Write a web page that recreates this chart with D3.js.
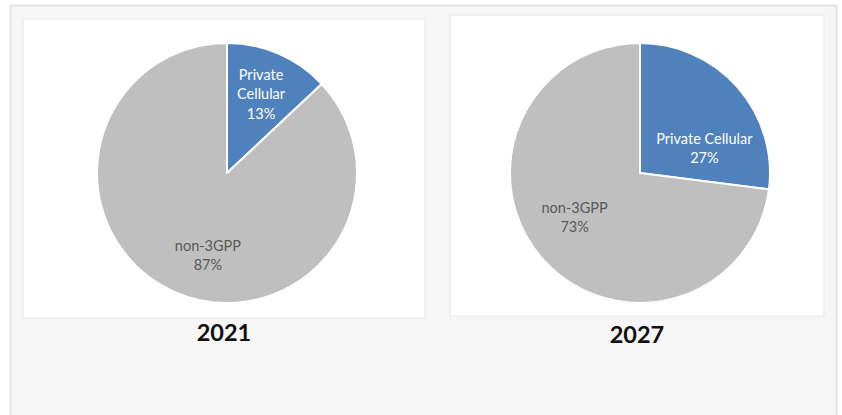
<!DOCTYPE html>
<html>
<head>
<meta charset="utf-8">
<script src="https://cdn.jsdelivr.net/npm/d3@7"></script>
<style>
  body { margin: 0; background: #fff; }
  svg text { font-family: Lato, "Open Sans", sans-serif; }
</style>
</head>
<body>
<div class="chart-container"></div>
<script>
var w = 842;
var h = 415;

// data
var years = ["2021", "2027"];
var categories = ["Private Cellular", "non-3GPP"];
var values2021 = [13, 87];
var values2027 = [27, 73];
var seriesValues = [values2021, values2027];

// label line breaks per chart (Excel wraps the narrow slice)
var labelLines = [
    [["Private", "Cellular"], ["non-3GPP"]],
    [["Private Cellular"], ["non-3GPP"]]
];
// nudge of labels from arc centroid
var labelNudge = [
    [[0, 0], [15, 4]],
    [[0, 32], [-1, -12]]
];

var colors = d3.scaleOrdinal()
    .domain(categories)
    .range(["#4f81bd", "#bfbfbf"]);
var textColors = d3.scaleOrdinal()
    .domain(categories)
    .range(["#ffffff", "#595959"]);

var panels = [
    {x: 23, y: 19, w: 402, h: 299, cx: 227, cy: 173, titleY: 341},
    {x: 450, y: 15, w: 374, h: 301, cx: 640, cy: 173, titleY: 343}
];
var radius = 130;

var svg = d3.select(".chart-container")
    .append("svg")
    .attr("width", w)
    .attr("height", h);

// outer frame
svg.append("rect")
    .attr("x", 10.5).attr("y", 5.5)
    .attr("width", 826).attr("height", 420)
    .attr("fill", "#f6f6f6")
    .attr("stroke", "#e3e3e3")
    .attr("stroke-width", 2);

var pie = d3.pie().sort(null).value(function(d) { return d; });
var arc = d3.arc().innerRadius(0).outerRadius(radius);
var labelArc = d3.arc().innerRadius(radius * 0.66).outerRadius(radius * 0.66);

years.forEach(function(year, k) {
    var p = panels[k];

    svg.append("rect")
        .attr("x", p.x).attr("y", p.y)
        .attr("width", p.w).attr("height", p.h)
        .attr("fill", "#ffffff")
        .attr("stroke", "#e6e6e6")
        .attr("stroke-width", 1);

    var g = svg.append("g")
        .attr("transform", "translate(" + p.cx + "," + p.cy + ")");

    var arcs = pie(seriesValues[k]);

    g.selectAll("path")
        .data(arcs)
        .enter()
        .append("path")
        .attr("d", arc)
        .attr("fill", function(d, i) { return colors(categories[i]); })
        .attr("stroke", "#ffffff")
        .attr("stroke-width", 2)
        .attr("stroke-linejoin", "round");

    var labels = g.selectAll(".label")
        .data(arcs)
        .enter()
        .append("text")
        .attr("class", "label")
        .attr("text-anchor", "middle")
        .attr("font-size", 14.5)
        .attr("fill", function(d, i) { return textColors(categories[i]); })
        .attr("transform", function(d, i) {
            var c = labelArc.centroid(d);
            var n = labelNudge[k][i];
            return "translate(" + (c[0] + n[0]) + "," + (c[1] + n[1]) + ")";
        });

    labels.each(function(d, i) {
        var lines = labelLines[k][i].concat([d.data + "%"]);
        var t = d3.select(this);
        var lh = 19.5;
        var y0 = -(lines.length - 1) * lh / 2 + 5;
        lines.forEach(function(s, j) {
            t.append("tspan")
                .attr("x", 0)
                .attr("y", y0 + j * lh)
                .text(s);
        });
    });

    svg.append("text")
        .attr("x", p.x + p.w / 2 + 0)
        .attr("y", p.titleY)
        .attr("text-anchor", "middle")
        .attr("font-size", 23.5)
        .attr("font-weight", "bold")
        .attr("fill", "#111111")
        .text(year);
});
</script>
</body>
</html>
